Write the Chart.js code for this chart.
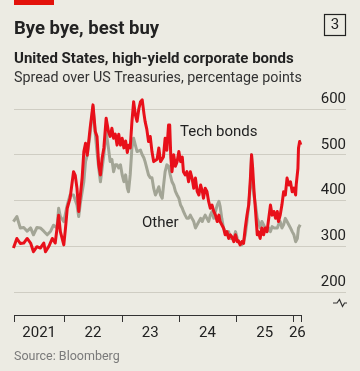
<!DOCTYPE html>
<html>
<head>
<meta charset="utf-8">
<script src="https://cdn.jsdelivr.net/npm/chart.js@4.4.0/dist/chart.umd.min.js"></script>
<style>
  html, body { margin: 0; padding: 0; background: #ecebe3; }
  #wrap { position: relative; width: 360px; height: 371px; }
</style>
</head>
<body>
<div id="wrap"><canvas id="chart" width="360" height="371"></canvas></div>
<script>
// Spread over US Treasuries (basis points), dates as decimal years
var techDates = [2021.11, 2021.17, 2021.23, 2021.29, 2021.35, 2021.41, 2021.46, 2021.52, 2021.58, 2021.64,
  2021.67, 2021.73, 2021.79, 2021.84, 2021.90, 2021.93, 2021.99, 2022.02, 2022.05, 2022.10,
  2022.13, 2022.16, 2022.19, 2022.22, 2022.25, 2022.28, 2022.31, 2022.34, 2022.37, 2022.40,
  2022.45, 2022.50, 2022.54, 2022.57, 2022.60, 2022.63, 2022.66, 2022.69, 2022.73, 2022.77,
  2022.80, 2022.83, 2022.86, 2022.89, 2022.92, 2022.95, 2022.98, 2023.01, 2023.04, 2023.07,
  2023.10, 2023.12, 2023.15, 2023.18, 2023.21, 2023.24, 2023.27, 2023.30, 2023.33, 2023.36,
  2023.39, 2023.41, 2023.44, 2023.47, 2023.50, 2023.53, 2023.56, 2023.62, 2023.65, 2023.68,
  2023.73, 2023.76, 2023.79, 2023.82, 2023.84, 2023.86, 2023.88, 2023.91, 2023.94, 2023.97,
  2024.00, 2024.03, 2024.06, 2024.08, 2024.11, 2024.14, 2024.17, 2024.20, 2024.23, 2024.26,
  2024.29, 2024.32, 2024.35, 2024.38, 2024.41, 2024.43, 2024.46, 2024.49, 2024.52, 2024.55,
  2024.58, 2024.61, 2024.64, 2024.67, 2024.70, 2024.72, 2024.78, 2024.81, 2024.84, 2024.87,
  2024.90, 2024.93, 2024.96, 2024.99, 2025.02, 2025.04, 2025.07, 2025.10, 2025.13, 2025.16,
  2025.19, 2025.22, 2025.25, 2025.27, 2025.29, 2025.31, 2025.34, 2025.37, 2025.39, 2025.42,
  2025.45, 2025.48, 2025.51, 2025.54, 2025.57, 2025.60, 2025.63, 2025.66, 2025.69, 2025.72,
  2025.74, 2025.77, 2025.80, 2025.83, 2025.86, 2025.89, 2025.92, 2025.95, 2025.98, 2026.01,
  2026.04, 2026.05, 2026.08, 2026.09, 2026.11, 2026.13];
var techSpread = [296, 317, 306, 307, 317, 307, 288, 299, 296, 307,
  288, 300, 317, 307, 368, 332, 303, 340, 383, 405,
  434, 463, 455, 427, 376, 412, 449, 507, 525, 499,
  558, 609, 551, 540, 478, 456, 493, 515, 580, 551,
  540, 558, 536, 545, 521, 545, 521, 536, 515, 530,
  505, 521, 515, 572, 616, 587, 573, 600, 616, 620,
  590, 573, 556, 529, 540, 507, 485, 490, 515, 485,
  495, 536, 510, 565, 565, 493, 463, 500, 475, 485,
  507, 485, 495, 463, 456, 463, 441, 463, 449, 427,
  449, 420, 412, 434, 420, 405, 427, 420, 398, 383,
  390, 376, 368, 354, 368, 354, 340, 325, 332, 317,
  325, 320, 310, 325, 310, 312, 303, 310, 306, 340,
  368, 390, 449, 500, 470, 427, 376, 325, 332, 317,
  340, 325, 340, 332, 361, 390, 368, 376, 361, 376,
  354, 368, 390, 419, 412, 449, 434, 441, 419, 427,
  412, 434, 470, 514, 529, 522];

var otherDates = [2021.11, 2021.17, 2021.23, 2021.29, 2021.35, 2021.41, 2021.46, 2021.52, 2021.58, 2021.64,
  2021.70, 2021.76, 2021.81, 2021.87, 2021.90, 2021.93, 2021.99, 2022.05, 2022.10, 2022.16,
  2022.22, 2022.25, 2022.28, 2022.34, 2022.37, 2022.40, 2022.45, 2022.50, 2022.54, 2022.57,
  2022.60, 2022.63, 2022.66, 2022.69, 2022.73, 2022.77, 2022.80, 2022.83, 2022.86, 2022.89,
  2022.92, 2022.95, 2022.98, 2023.01, 2023.04, 2023.07, 2023.10, 2023.12, 2023.15, 2023.18,
  2023.21, 2023.24, 2023.27, 2023.33, 2023.36, 2023.39, 2023.41, 2023.47, 2023.50, 2023.53,
  2023.56, 2023.59, 2023.62, 2023.65, 2023.68, 2023.71, 2023.73, 2023.76, 2023.79, 2023.82,
  2023.85, 2023.88, 2023.91, 2023.94, 2023.97, 2024.00, 2024.03, 2024.06, 2024.08, 2024.11,
  2024.14, 2024.17, 2024.20, 2024.23, 2024.26, 2024.29, 2024.32, 2024.35, 2024.38, 2024.41,
  2024.43, 2024.46, 2024.49, 2024.52, 2024.55, 2024.58, 2024.61, 2024.64, 2024.67, 2024.70,
  2024.72, 2024.75, 2024.78, 2024.81, 2024.84, 2024.87, 2024.90, 2024.96, 2024.99, 2025.02,
  2025.04, 2025.07, 2025.10, 2025.13, 2025.16, 2025.19, 2025.22, 2025.25, 2025.27, 2025.29,
  2025.31, 2025.34, 2025.37, 2025.39, 2025.42, 2025.45, 2025.48, 2025.54, 2025.57, 2025.60,
  2025.63, 2025.66, 2025.72, 2025.74, 2025.77, 2025.80, 2025.83, 2025.86, 2025.89, 2025.92,
  2025.95, 2025.98, 2026.01, 2026.04, 2026.07, 2026.09, 2026.12];
var otherSpread = [354, 365, 340, 341, 333, 340, 325, 341, 340, 333,
  325, 333, 346, 340, 383, 365, 354, 390, 412, 412,
  390, 365, 395, 441, 485, 499, 545, 605, 545, 507,
  471, 441, 471, 500, 551, 515, 485, 490, 463, 478,
  478, 471, 478, 456, 441, 456, 427, 419, 456, 515,
  536, 521, 507, 510, 500, 493, 485, 456, 450, 450,
  427, 412, 420, 430, 412, 405, 430, 463, 478, 475,
  456, 441, 434, 420, 412, 405, 390, 383, 376, 368,
  361, 361, 368, 361, 354, 340, 347, 354, 361, 354,
  361, 368, 361, 354, 368, 376, 361, 376, 390, 398,
  388, 361, 340, 332, 325, 332, 317, 317, 332, 317,
  310, 306, 303, 310, 325, 354, 390, 434, 500, 440,
  412, 390, 361, 354, 340, 354, 347, 332, 340, 332,
  343, 340, 340, 347, 354, 340, 347, 361, 354, 347,
  340, 332, 325, 310, 317, 340, 347];

// axis
var yTicks = [200, 300, 400, 500, 600];
var yearTicks = [2021.12, 2022, 2023, 2024, 2025, 2026, 2026.14];
var yearLabels = ["2021", "22", "23", "24", "25", "26"];
var xMin = 2021.12;
var xMax = 2026.92; // gridlines run past the data, under the right-hand labels

var RED = "#e8101a";
var GREY = "#a3a596";
var TEXT = "#222222";
var FONT = "Roboto, 'Noto Sans', sans-serif";

function toPoints(xs, ys) {
  var pts = [];
  for (var i = 0; i < xs.length; i++) pts.push({ x: xs[i], y: ys[i] });
  return pts;
}

var decor = {
  id: "decor",
  beforeDraw: function(chart) {
    var ctx = chart.ctx;
    ctx.save();
    ctx.fillStyle = "#ecebe3";
    ctx.fillRect(0, 0, chart.width, chart.height);
    // red tag
    ctx.fillStyle = "#e3120b";
    ctx.fillRect(14, 0, 40, 5);
    // titles
    ctx.fillStyle = TEXT;
    ctx.textBaseline = "alphabetic";
    ctx.textAlign = "left";
    ctx.font = "bold 18.5px " + FONT;
    ctx.fillText("Bye bye, best buy", 14, 34);
    ctx.font = "bold 15px " + FONT;
    ctx.fillText("United States, high-yield corporate bonds", 14, 63);
    ctx.font = "14.3px " + FONT;
    ctx.fillStyle = "#333333";
    ctx.fillText("Spread over US Treasuries, percentage points", 14, 82);
    // chart number box
    ctx.strokeStyle = TEXT;
    ctx.lineWidth = 1.2;
    ctx.strokeRect(324.5, 14.5, 21, 21);
    ctx.fillStyle = TEXT;
    ctx.textAlign = "center";
    ctx.textBaseline = "middle";
    ctx.font = "15px " + FONT;
    ctx.fillText("3", 335, 25.5);
    ctx.restore();
  },
  afterDraw: function(chart) {
    var ctx = chart.ctx;
    var xs = chart.scales.x;
    var axisY = 315;
    ctx.save();
    // x axis line + ticks
    var x0 = xs.getPixelForValue(yearTicks[0]);
    var x1 = xs.getPixelForValue(yearTicks[yearTicks.length - 1]);
    ctx.strokeStyle = "#333333";
    ctx.lineWidth = 1;
    ctx.beginPath();
    ctx.moveTo(x0, axisY + 0.5);
    ctx.lineTo(x1, axisY + 0.5);
    for (var i = 0; i < yearTicks.length; i++) {
      var px = Math.round(xs.getPixelForValue(yearTicks[i])) + 0.5;
      ctx.moveTo(px, axisY);
      ctx.lineTo(px, axisY + 7);
    }
    ctx.stroke();
    // year labels, centred in each visible year
    ctx.fillStyle = TEXT;
    ctx.font = "15px " + FONT;
    ctx.textAlign = "center";
    ctx.textBaseline = "middle";
    for (var j = 0; j < yearLabels.length; j++) {
      var a = xs.getPixelForValue(yearTicks[j]);
      var b = xs.getPixelForValue(yearTicks[j + 1]);
      ctx.fillText(yearLabels[j], (a + b) / 2, 333);
    }
    // axis break mark
    ctx.strokeStyle = "#333333";
    ctx.lineWidth = 1.2;
    ctx.beginPath();
    ctx.moveTo(333, 303);
    ctx.lineTo(337, 303);
    ctx.lineTo(339.5, 299.5);
    ctx.lineTo(342.5, 306.5);
    ctx.lineTo(344.5, 303);
    ctx.lineTo(347, 303);
    ctx.stroke();
    // series labels
    ctx.textAlign = "left";
    ctx.fillText("Tech bonds", 180, 132);
    ctx.fillText("Other", 142, 223);
    // source
    ctx.fillStyle = "#7a7a7a";
    ctx.font = "12.5px " + FONT;
    ctx.fillText("Source: Bloomberg", 14, 357);
    ctx.restore();
  }
};

var myChart = new Chart(document.getElementById("chart"), {
  type: "line",
  data: {
    datasets: [
      {
        label: "Tech bonds",
        data: toPoints(techDates, techSpread),
        borderColor: RED,
        borderWidth: 3,
        pointRadius: 0,
        tension: 0,
        borderJoinStyle: "round",
        clip: false
      },
      {
        label: "Other",
        data: toPoints(otherDates, otherSpread),
        borderColor: GREY,
        borderWidth: 3,
        pointRadius: 0,
        tension: 0,
        borderJoinStyle: "round",
        clip: false
      }
    ]
  },
  options: {
    responsive: false,
    animation: false,
    devicePixelRatio: 1,
    layout: {
      padding: { left: 14, right: 14, top: 109, bottom: 79 }
    },
    scales: {
      x: {
        type: "linear",
        display: false,
        min: xMin,
        max: xMax
      },
      y: {
        position: "right",
        min: 200,
        max: 600,
        afterBuildTicks: function(scale) {
          scale.ticks = yTicks.map(function(v) { return { value: v }; });
        },
        border: { display: false },
        grid: {
          color: "#cfcdc3",
          lineWidth: 1,
          drawTicks: false
        },
        ticks: {
          mirror: true,
          padding: 0,
          labelOffset: -10,
          color: TEXT,
          font: { family: FONT, size: 15 },
          callback: function(v) { return String(v); }
        }
      }
    },
    plugins: {
      legend: { display: false },
      tooltip: { enabled: false }
    }
  },
  plugins: [decor]
});
</script>
</body>
</html>
